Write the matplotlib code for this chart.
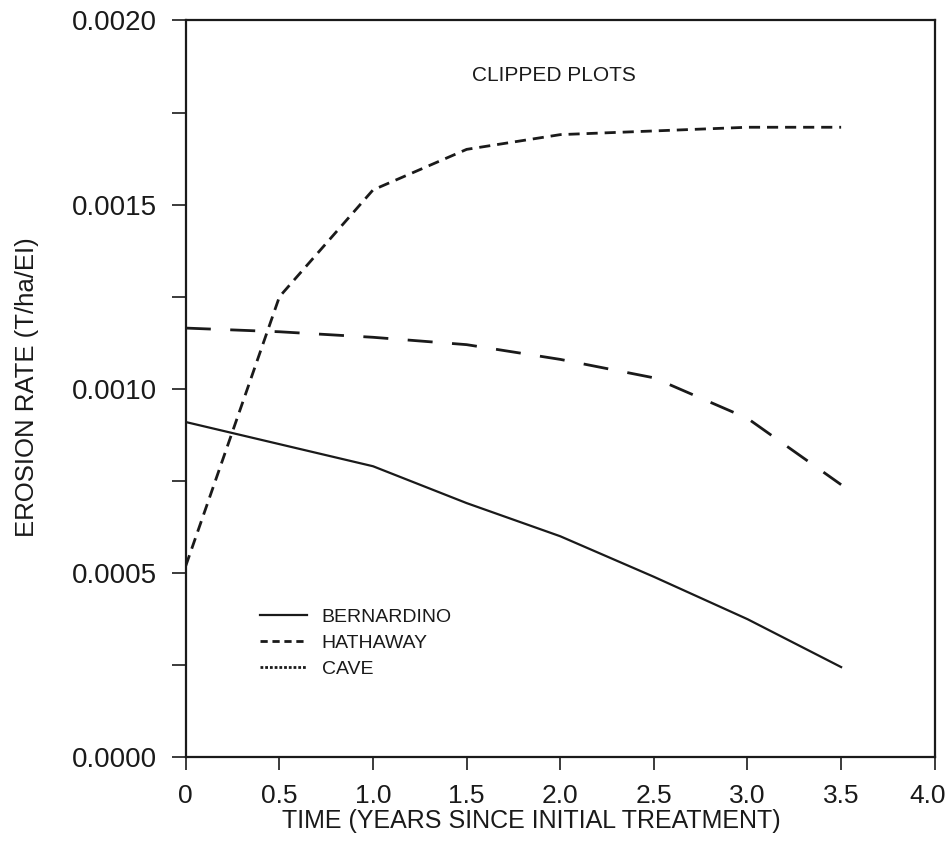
import numpy as np
import matplotlib
matplotlib.use('Agg')
import matplotlib.pyplot as plt
from matplotlib.ticker import MultipleLocator, FixedLocator
from matplotlib.transforms import ScaledTranslation

plt.rcParams['font.family'] = ['Liberation Sans', 'DejaVu Sans']

# years since initial treatment
years = [0.0, 0.5, 1.0, 1.5, 2.0, 2.5, 3.0, 3.5]

# erosion rate (T/ha/EI)
bernardino = [0.00091, 0.00085, 0.00079, 0.00069, 0.00060, 0.00049, 0.000375, 0.000245]
hathaway = [0.001165, 0.001155, 0.00114, 0.00112, 0.00108, 0.00103, 0.00092, 0.00074]
cave = [0.00052, 0.00125, 0.00154, 0.00165, 0.00169, 0.00170, 0.00171, 0.00171]

x_ticks = [0, 0.5, 1.0, 1.5, 2.0, 2.5, 3.0, 3.5, 4.0]
x_labels = ['0', '0.5', '1.0', '1.5', '2.0', '2.5', '3.0', '3.5', '4.0']
y_ticks = [0.0, 0.0005, 0.0010, 0.0015, 0.0020]
y_labels = ['0.0000', '0.0005', '0.0010', '0.0015', '0.0020']

ink = '#1a1a1a'

fig = plt.figure(figsize=(9.48, 8.5), dpi=100)
ax = fig.add_axes([0.196, 0.109, 0.790, 0.867])

ax.plot(years, bernardino, color=ink, linewidth=1.6, label='BERNARDINO')
ax.plot(years, hathaway, color=ink, linewidth=2.0, dashes=(9, 7),
        label='HATHAWAY')
ax.plot(years, cave, color=ink, linewidth=2.0, dashes=(4, 2.5),
        label='CAVE')

ax.set_xlim(0, 4.0)
ax.set_ylim(0, 0.0020)
ax.xaxis.set_major_locator(FixedLocator(x_ticks))
ax.set_xticklabels(x_labels)
ax.yaxis.set_major_locator(FixedLocator(y_ticks))
ax.set_yticklabels(y_labels)
ax.yaxis.set_minor_locator(MultipleLocator(0.00025))

ax.tick_params(axis='x', which='major', direction='out', length=9,
               width=1.2, labelsize=19, pad=10, colors=ink)
ax.tick_params(axis='y', which='major', direction='out', length=10,
               width=1.2, labelsize=20, pad=11, colors=ink)
ax.tick_params(axis='y', which='minor', direction='out', length=10,
               width=1.2, colors=ink)
for s in ax.spines.values():
    s.set_linewidth(1.6)
    s.set_color(ink)

# last x label sits against the right edge of the page, pull it in a bit
last = ax.get_xticklabels()[-1]
last.set_horizontalalignment('right')
last.set_transform(last.get_transform()
                   + ScaledTranslation(0.11, 0, fig.dpi_scale_trans))

ax.set_xlabel('TIME (YEARS SINCE INITIAL TREATMENT)', fontsize=18, color=ink)
ax.xaxis.set_label_coords(0.461, -0.087)
ax.xaxis.label.set_va('center')
ax.set_ylabel('EROSION RATE (T/ha/EI)', fontsize=18.5, color=ink)
ax.yaxis.set_label_coords(-0.212, 0.503)
ax.yaxis.label.set_va('center')

ax.text(1.965, 0.00185, 'CLIPPED PLOTS', fontsize=15, ha='center',
        va='center', color=ink)

leg = ax.legend(loc='center left', bbox_to_anchor=(0.099, 0.155),
                frameon=False, fontsize=14, handlelength=2.4,
                handletextpad=0.77, labelspacing=0.45, borderpad=0,
                borderaxespad=0)
for t in leg.get_texts():
    t.set_color(ink)
# the key swatches use finer patterns than the curves, as in the original
leg.get_lines()[1].set_dashes((2.6, 1.7))
leg.get_lines()[2].set_dashes((1.0, 0.7))

fig.savefig('out.png', dpi=100)
